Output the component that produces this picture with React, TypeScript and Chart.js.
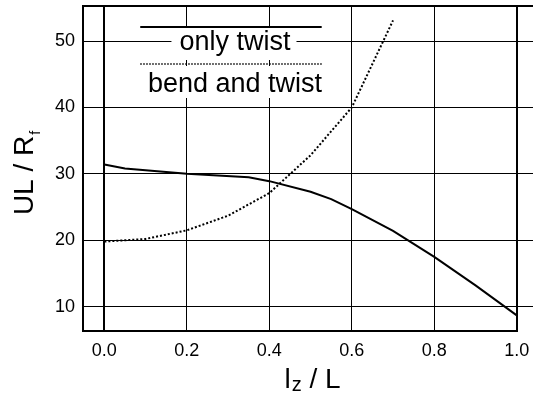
import React, { useEffect, useRef } from "react";
import { Chart, registerables } from "chart.js";

Chart.register(...registerables);

// ---- data ----
const onlyTwistX = [0, 0.05, 0.2, 0.35, 0.4, 0.5, 0.55, 0.6, 0.7, 0.8, 0.9, 1.0];
const onlyTwistY = [31.4, 30.8, 30.0, 29.5, 28.9, 27.3, 26.2, 24.7, 21.4, 17.5, 13.2, 8.7];
const bendTwistX = [0, 0.1, 0.2, 0.3, 0.4, 0.5, 0.6, 0.7];
const bendTwistY = [19.8, 20.2, 21.5, 23.7, 27.1, 32.8, 40.0, 53.1];
const xTicks = [0, 0.2, 0.4, 0.6, 0.8, 1.0];
const yTicks = [10, 20, 30, 40, 50];
const seriesLabels = ["only twist", "bend and twist"];
const xTitleMain = "l";
const xTitleSub = "z";
const xTitleRest = " / L";
const yTitleMain = "UL / R";
const yTitleSub = "f";

const FONT = "'Liberation Sans', Arial, Helvetica, sans-serif";

const framePlugin = {
  id: "frame",
  beforeDraw(chart: any) {
    const { ctx, width, height } = chart;
    ctx.save();
    ctx.fillStyle = "#fff";
    ctx.fillRect(0, 0, width, height);
    ctx.restore();
  },
  afterDraw(chart: any) {
    const { ctx, chartArea } = chart;
    const xs = chart.scales.x;
    const { left, top, bottom, right } = chartArea;
    ctx.save();
    ctx.strokeStyle = "#000";
    // frame
    ctx.lineWidth = 2;
    ctx.beginPath();
    ctx.moveTo(left, bottom);
    ctx.lineTo(left, top);
    ctx.lineTo(right + 2, top);
    ctx.stroke();
    ctx.beginPath();
    ctx.moveTo(left - 1, bottom);
    ctx.lineTo(Math.round(xs.getPixelForValue(1)) + 1, bottom);
    ctx.stroke();

    // legend
    const lx0 = xs.getPixelForValue(0.087);
    const lx1 = xs.getPixelForValue(0.527);
    const entries = [
      { dash: [] as number[], lw: 2, lineY: Math.round(top + 21), textY: top + 44, label: seriesLabels[0], boxTop: top + 22, boxBot: top + 54 },
      { dash: [1.5, 1.5], lw: 1.5, lineY: top + 58, textY: top + 86, label: seriesLabels[1], boxTop: top + 60, boxBot: top + 92 },
    ];
    ctx.font = `27px ${FONT}`;
    ctx.textBaseline = "alphabetic";
    ctx.textAlign = "left";
    entries.forEach((e) => {
      const w = ctx.measureText(e.label).width;
      const cx = (lx0 + lx1) / 2 + 4;
      const tx = cx - w / 2;
      ctx.fillStyle = "#fff";
      ctx.fillRect(tx - 8, e.boxTop, w + 14, e.boxBot - e.boxTop);
      ctx.fillStyle = "#000";
      ctx.fillText(e.label, tx, e.textY);
      ctx.setLineDash(e.dash);
      ctx.lineWidth = e.lw;
      ctx.beginPath();
      ctx.moveTo(lx0, e.lineY);
      ctx.lineTo(lx1, e.lineY);
      ctx.stroke();
    });
    ctx.setLineDash([]);

    // x title with subscript
    const big = `28px ${FONT}`;
    const small = `20px ${FONT}`;
    ctx.fillStyle = "#000";
    ctx.font = big;
    const w1 = ctx.measureText(xTitleMain).width;
    const w3 = ctx.measureText(xTitleRest).width;
    ctx.font = small;
    const w2 = ctx.measureText(xTitleSub).width;
    const xc = (left + right + 8) / 2;
    let x = xc - (w1 + w2 + w3) / 2;
    const by = 388;
    ctx.font = big;
    ctx.fillText(xTitleMain, x, by);
    x += w1 + 1;
    ctx.font = small;
    ctx.fillText(xTitleSub, x, by + 3);
    x += w2;
    ctx.font = big;
    ctx.fillText(xTitleRest, x, by);

    // y title with subscript (rotated)
    ctx.save();
    ctx.translate(33, (top + bottom) / 2 + 5);
    ctx.rotate(-Math.PI / 2);
    ctx.font = big;
    const v1 = ctx.measureText(yTitleMain).width;
    ctx.font = `14px ${FONT}`;
    const v2 = ctx.measureText(yTitleSub).width;
    let px = -(v1 + v2) / 2;
    ctx.font = big;
    ctx.fillText(yTitleMain, px, 0);
    px += v1 + 1;
    ctx.font = `14px ${FONT}`;
    ctx.fillText(yTitleSub, px, 7);
    ctx.restore();

    ctx.restore();
  },
};

export default function App() {
  const ref = useRef<HTMLCanvasElement | null>(null);
  useEffect(() => {
    document.body.style.margin = "0";
    const canvas = ref.current!;
    const chart = new Chart(canvas, {
      type: "line",
      data: {
        datasets: [
          {
            label: seriesLabels[0],
            data: onlyTwistX.map((x, i) => ({ x, y: onlyTwistY[i] })),
            borderColor: "#000",
            borderWidth: 2,
            pointRadius: 0,
            tension: 0,
            fill: false,
          },
          {
            label: seriesLabels[1],
            data: bendTwistX.map((x, i) => ({ x, y: bendTwistY[i] })),
            borderColor: "#000",
            borderWidth: 2,
            borderDash: [2, 2],
            pointRadius: 0,
            tension: 0,
            fill: false,
          },
        ],
      },
      options: {
        animation: false,
        responsive: false,
        devicePixelRatio: 1,
        layout: { padding: { top: 6, left: 0, right: 0, bottom: 0 } },
        plugins: { legend: { display: false }, tooltip: { enabled: false } },
        scales: {
          x: {
            type: "linear",
            min: -0.0518,
            max: 1.0394,
            afterBuildTicks: (s: any) => {
              s.ticks = xTicks.map((v) => ({ value: v }));
            },
            afterFit: (s: any) => {
              s.height = 63;
              s.paddingLeft = 0;
              s.paddingRight = 0;
            },
            border: { display: false },
            grid: {
              color: "#000",
              lineWidth: (c: any) => (c.tick && (c.tick.value === 0 || c.tick.value === 1) ? 2 : 1),
              drawTicks: false,
            },
            ticks: {
              color: "#000",
              font: { family: FONT, size: 18 },
              padding: 9,
              maxRotation: 0,
              callback: (v: any) => Number(v).toFixed(1),
            },
          },
          y: {
            type: "linear",
            min: 6.34,
            max: 55.27,
            afterBuildTicks: (s: any) => {
              s.ticks = yTicks.map((v) => ({ value: v }));
            },
            afterFit: (s: any) => {
              s.width = 83;
              s.paddingTop = 0;
              s.paddingBottom = 0;
            },
            border: { display: false },
            grid: { color: "#000", lineWidth: 1, drawTicks: false },
            ticks: {
              color: "#000",
              font: { family: FONT, size: 18 },
              padding: 8,
              callback: (v: any) => String(v),
            },
          },
        },
      },
      plugins: [framePlugin],
    } as any);
    return () => chart.destroy();
  }, []);
  return (
    <div style={{ width: 533, height: 394, overflow: "hidden" }}>
      <canvas ref={ref} width={533} height={394} style={{ display: "block" }} />
    </div>
  );
}
